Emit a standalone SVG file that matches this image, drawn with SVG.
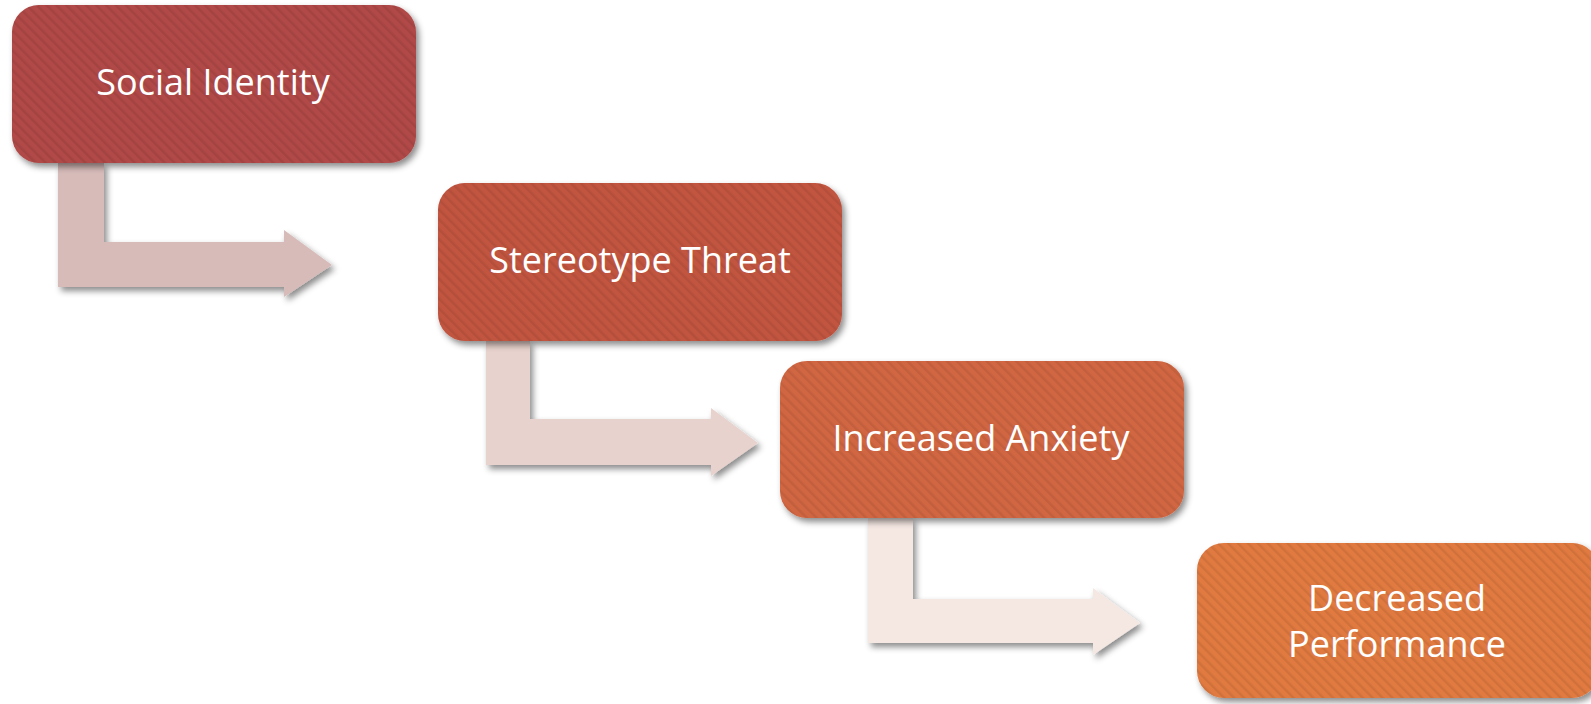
<svg xmlns="http://www.w3.org/2000/svg" width="1591" height="704" viewBox="0 0 1591 704">
<defs>
<filter id="sh" x="-10%" y="-10%" width="125%" height="130%">
<feDropShadow dx="3" dy="4" stdDeviation="3" flood-color="#000" flood-opacity="0.45"/>
</filter>
<pattern id="stripes" width="7" height="7" patternUnits="userSpaceOnUse" patternTransform="rotate(-45)">
<rect width="7" height="7" fill="none"/>
<rect x="0" y="0" width="2.5" height="7" fill="#000" fill-opacity="0.07"/>
</pattern>
<style>
.lbl{font-family:"Open Sans","Liberation Sans",sans-serif;font-size:36px;fill:#fff;text-anchor:middle}
.arr{filter:url(#sh)}
</style>
</defs>
<rect width="1591" height="704" fill="#fff"/>
<g id="connectors">
<path class="arr" fill="#d6bbb9" d="M58,163 H104 V242 H284 V230 L332,265 L284,297 V287 H58 Z"/>
<path class="arr" fill="#e8d2cd" d="M486,341 H530 V419 H711 V408 L758,443 L711,476 V465 H486 Z"/>
<path class="arr" fill="#f5e8e3" d="M868,518 H913 V599 H1093 V588 L1140,623 L1093,655 V643 H868 Z"/>
</g>
<g id="node-social-identity">
<rect x="12" y="5" width="404" height="158" rx="27" fill="#b04a46" filter="url(#sh)"/>
<rect x="12" y="5" width="404" height="158" rx="27" fill="url(#stripes)"/>
<text class="lbl" x="213" y="95">Social Identity</text>
</g>
<g id="node-stereotype-threat">
<rect x="438" y="183" width="404" height="158" rx="27" fill="#c15440" filter="url(#sh)"/>
<rect x="438" y="183" width="404" height="158" rx="27" fill="url(#stripes)"/>
<text class="lbl" x="640" y="273">Stereotype Threat</text>
</g>
<g id="node-increased-anxiety">
<rect x="780" y="361" width="404" height="157" rx="27" fill="#d16642" filter="url(#sh)"/>
<rect x="780" y="361" width="404" height="157" rx="27" fill="url(#stripes)"/>
<text class="lbl" x="981" y="451">Increased Anxiety</text>
</g>
<g id="node-decreased-performance">
<rect x="1197" y="543" width="402" height="155" rx="27" fill="#e07a40" filter="url(#sh)"/>
<rect x="1197" y="543" width="402" height="155" rx="27" fill="url(#stripes)"/>
<text class="lbl" x="1397" y="611">Decreased</text>
<text class="lbl" x="1397" y="657">Performance</text>
</g>
</svg>
